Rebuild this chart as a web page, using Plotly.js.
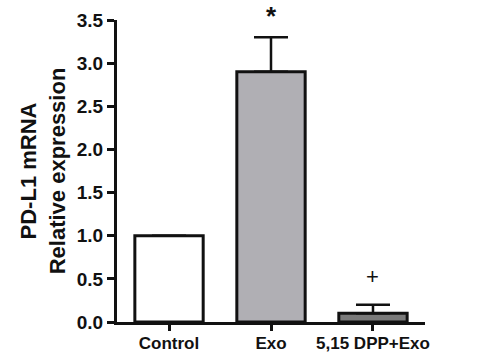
<!DOCTYPE html>
<html><head><meta charset="utf-8">
<script src="https://cdn.plot.ly/plotly-3.0.1.min.js"></script>
<style>html,body{margin:0;padding:0;background:#fff}</style>
</head><body>
<div id="chart" style="width:477px;height:356px"></div>
<script>
const categories = ["Control", "Exo", "5,15 DPP+Exo"];
const values = [1.0, 2.9, 0.1];
const errorsUp = [0, 0.4, 0.1];
const fills = ["#ffffff", "#b0afb4", "#7a7a7a"];
const marks = ["", "*", "+"];
const yTicks = [0, 0.5, 1.0, 1.5, 2.0, 2.5, 3.0, 3.5];

const font = {family: "Arial, Liberation Sans, sans-serif", color: "#111"};
const trace = {
  type: "bar", x: categories, y: values, width: 0.67,
  marker: {color: fills, line: {color: "#111", width: 3}},
  error_y: {type: "data", symmetric: false, array: errorsUp, arrayminus: [0,0,0],
            color: "#111", thickness: 2.5, width: 17},
  hoverinfo: "none"
};
const annotations = categories.map((c, i) => ({
  x: c, y: values[i] + errorsUp[i], text: marks[i] === "*" ? "<b>*</b>" : marks[i],
  showarrow: false, yanchor: "bottom", yshift: marks[i] === "*" ? 4 : 14,
  font: Object.assign({}, font, {size: marks[i] === "*" ? 26 : 22})
}));
Plotly.newPlot("chart", [trace], {
  width: 477, height: 356,
  margin: {l: 117, r: 52, t: 20, b: 34},
  paper_bgcolor: "#fff", plot_bgcolor: "#fff",
  showlegend: false,
  annotations: annotations,
  xaxis: {range: [-0.51, 2.51], showline: true, linewidth: 3, linecolor: "#111",
          ticks: "outside", ticklen: 6, tickwidth: 3, tickcolor: "#111",
          ticklabelstandoff: -2,
          tickfont: Object.assign({}, font, {size: 17, weight: "bold"}),
          showgrid: false, zeroline: false, fixedrange: true},
  yaxis: {range: [0, 3.5], tickvals: yTicks, ticktext: yTicks.map(v => v.toFixed(1)),
          showline: true, linewidth: 3, linecolor: "#111",
          ticks: "outside", ticklen: 7, tickwidth: 3, tickcolor: "#111",
          tickfont: Object.assign({}, font, {size: 19, weight: "bold"}),
          title: {text: "PD-L1 mRNA<br>Relative expression", standoff: 6,
                  font: Object.assign({}, font, {size: 22, weight: "bold"})},
          showgrid: false, zeroline: false, fixedrange: true}
}, {displayModeBar: false, staticPlot: true});
</script>
</body></html>
